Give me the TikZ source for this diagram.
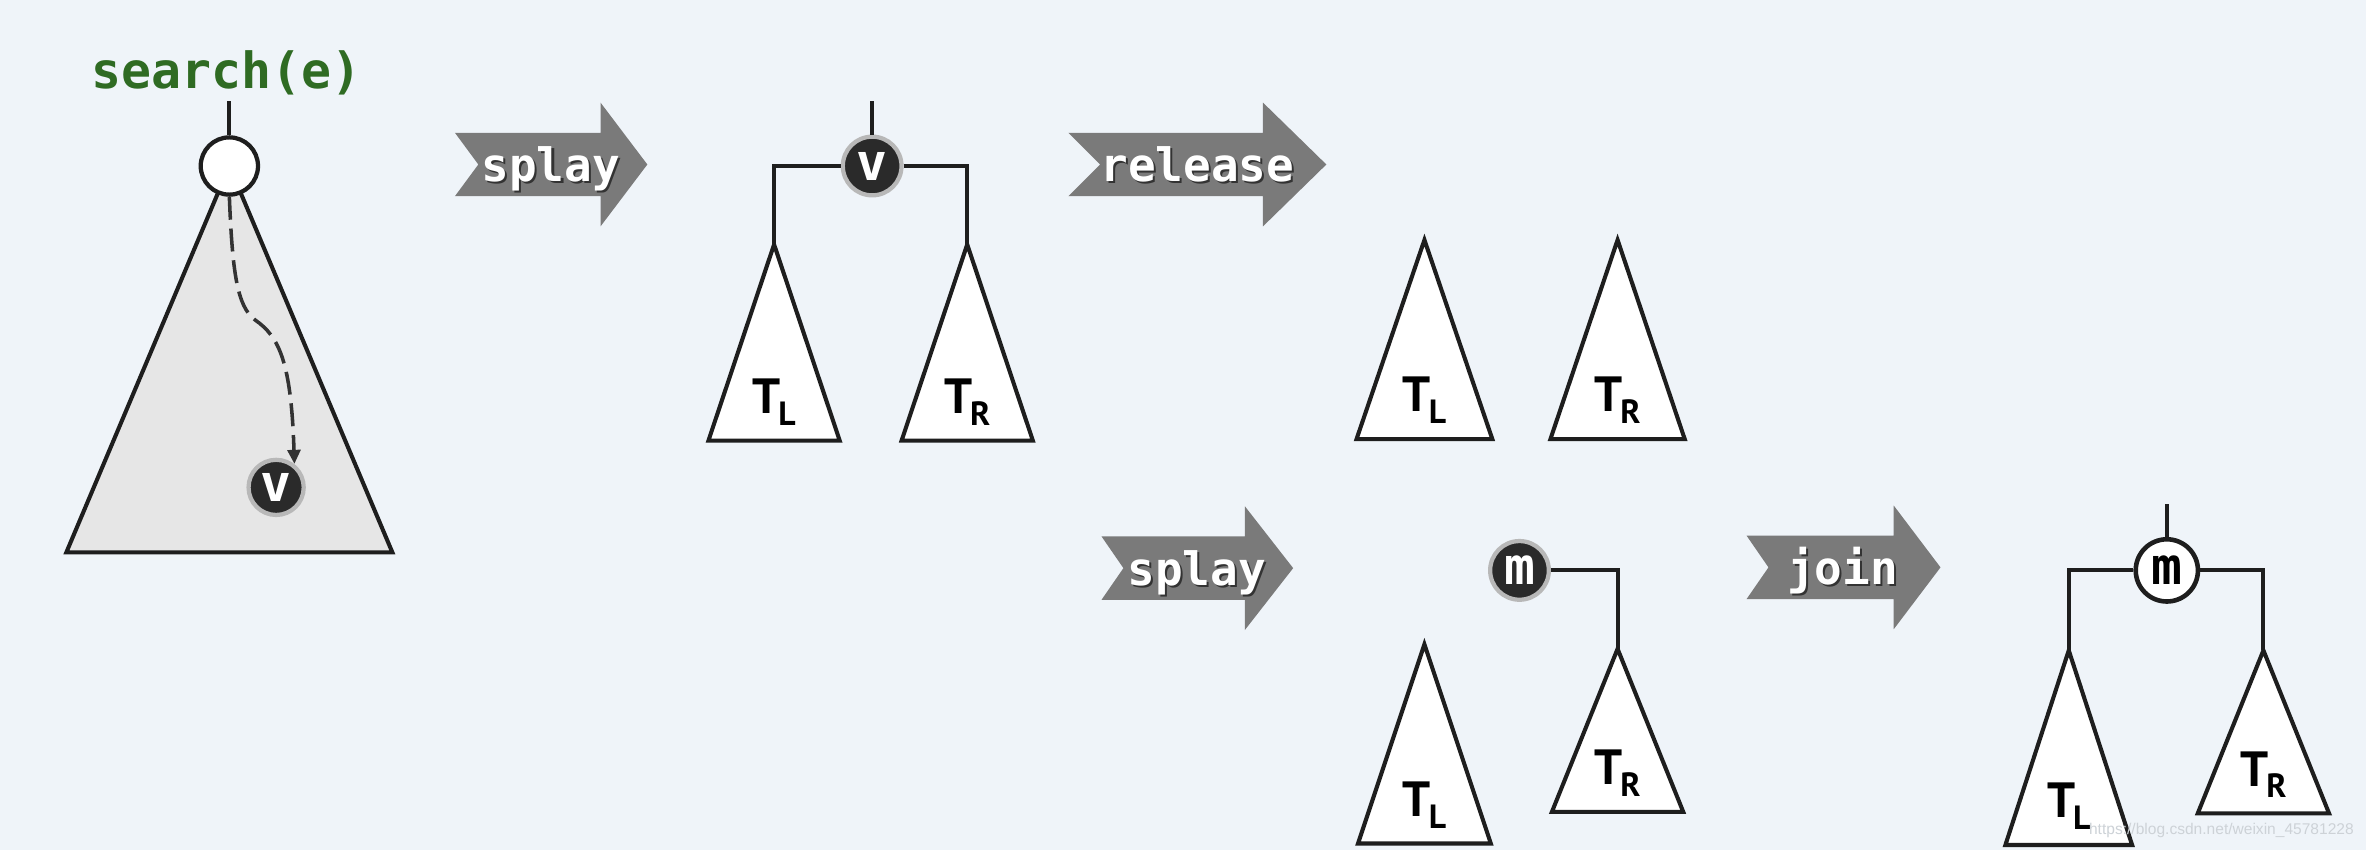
\documentclass[tikz,border=0pt]{standalone}
\usepackage{fontspec}
\setmonofont{DejaVu Sans Mono}
\newfontfamily\labfont{PT Sans}
\newfontfamily\wmfont{Liberation Sans}
\usetikzlibrary{arrows.meta}
\definecolor{bg}{HTML}{EFF4F9}
\definecolor{arrowgray}{HTML}{7A7A7A}
\definecolor{nodedark}{HTML}{2A2A2A}
\definecolor{searchgreen}{HTML}{2F6B23}
\definecolor{trifill}{HTML}{E6E6E6}
\definecolor{wmgray}{HTML}{CDD2D7}
\definecolor{linecol}{HTML}{1E1E1E}
\tikzset{
  treeline/.style={line width=1.1pt, draw=linecol, line join=miter},
  tristyle/.style={line width=1.15pt, draw=linecol, fill=white, line join=miter},
  darknode/.style={circle, fill=nodedark, draw=black!28, line width=1.2pt, minimum size=16.6pt, inner sep=0pt, text=white, font=\ttfamily\bfseries\fontsize{14.5}{14.5}\selectfont},
  whitenode/.style={circle, fill=white, draw=linecol, line width=1.2pt, minimum size=16.2pt, inner sep=0pt, text=black, font=\ttfamily\bfseries\fontsize{14.5}{14.5}\selectfont},
  arrowtext/.style={anchor=base, inner sep=0pt, text=white, font=\ttfamily\bfseries\fontsize{13}{13}\selectfont},
  arrowshadow/.style={anchor=base, inner sep=0pt, text=black!80, font=\ttfamily\bfseries\fontsize{13}{13}\selectfont},
  treelabel/.style={anchor=base, inner sep=0pt, text=black, font=\labfont\bfseries\fontsize{14}{14}\selectfont},
  searchpath/.style={line width=1pt, draw=black!80, dash pattern=on 6.5pt off 2.5pt, -{Triangle[length=4pt,width=3.6pt]}},
}
% tail, notch, headbase, tip, mid, name, text, text centre
\newcommand\garrow[8]{%
  \fill[arrowgray] (#1,#5-21) -- (#3,#5-21) -- (#3,#5-41) -- (#4,#5) -- (#3,#5+41) -- (#3,#5+21) -- (#1,#5+21) -- (#2,#5) -- cycle;
  \node[arrowshadow, xshift=0.6pt, yshift=-0.6pt] (#6s) at (#8,#5+11.3) {#7};
  \node[arrowtext] (#6) at (#8,#5+11.3) {#7};
}
% name, apex x, apex y, half width, base y
\newcommand\tritree[5]{%
  \coordinate (#1) at (#2,#3);
  \draw[tristyle] (#1) -- (#2-#4,#5) -- (#2+#4,#5) -- cycle;
}
\newcommand\tlab[1]{T\kern-0.6pt\raisebox{-3.3pt}{\fontsize{9.5}{9.5}\selectfont #1}}
\begin{document}
\begin{tikzpicture}[x=0.015cm,y=-0.015cm]
\fill[bg] (0,0) rectangle (1568,563);
\useasboundingbox (0,0) rectangle (1568,563);

% ---------- panel 1: search(e)
\node[anchor=base, inner sep=0pt, text=searchgreen, font=\ttfamily\bfseries\fontsize{14.1}{14.1}\selectfont] (search) at (150,58.5) {search(e)};
\coordinate (r1top) at (152,67);
\coordinate (bigapex) at (152,110);
\draw[line width=1.15pt, draw=linecol, fill=trifill, line join=miter] (bigapex) -- (44,366) -- (260,366) -- cycle;
\node[whitenode] (r1) at (152,110) {};
\draw[treeline] (r1top) -- (r1);
\node[darknode, minimum size=15.6pt] (v1) at (183,323) {v};
\draw[searchpath] (r1.south) .. controls (154,180) and (157,203) .. (169,212)
   .. controls (185,223) and (193,240) .. (v1.52);

% ---------- arrow splay
\garrow{301.5}{317}{398}{429}{109}{a1}{splay}{365}

% ---------- panel 2
\node[darknode] (v2) at (578,110) {v};
\coordinate (v2top) at (578,67);
\draw[treeline] (v2top) -- (v2);
\tritree{tl2}{513}{162}{43.5}{292}
\tritree{tr2}{641}{162}{43.5}{292}
\draw[treeline] (v2.west) -| (tl2);
\draw[treeline] (v2.east) -| (tr2);
\node[treelabel] (ltl2) at (513,274) {\tlab{L}};
\node[treelabel] (ltr2) at (641,274) {\tlab{R}};

% ---------- arrow release
\garrow{708}{729}{837}{879}{109}{a2}{release}{793.5}

% ---------- panel 3
\tritree{tl3}{944}{159}{45}{291}
\tritree{tr3}{1072}{159}{44.5}{291}
\node[treelabel] (ltl3) at (944,273) {\tlab{L}};
\node[treelabel] (ltr3) at (1072,273) {\tlab{R}};

% ---------- arrow splay (2)
\garrow{730}{744.5}{825}{857}{376.5}{a3}{splay}{793}

% ---------- panel 4
\node[darknode] (m1) at (1007,378) {m};
\tritree{tl4}{944}{427}{44}{559}
\tritree{tr4}{1072}{430}{43.5}{538}
\draw[treeline] (m1.east) -| (tr4);
\node[treelabel] (ltl4) at (944,541) {\tlab{L}};
\node[treelabel] (ltr4) at (1072,520) {\tlab{R}};

% ---------- arrow join
\garrow{1157.5}{1172}{1255}{1286}{376}{a4}{join}{1221}

% ---------- panel 5
\node[whitenode, minimum size=17.6pt, line width=1.3pt] (m2) at (1436,378) {m};
\coordinate (m2top) at (1436,334);
\draw[treeline] (m2top) -- (m2);
\tritree{tl5}{1371}{431}{42}{560}
\tritree{tr5}{1500}{431}{43.5}{539}
\draw[treeline] (m2.west) -| (tl5);
\draw[treeline] (m2.east) -| (tr5);
\node[treelabel] (ltl5) at (1371,542) {\tlab{L}};
\node[treelabel] (ltr5) at (1500,521) {\tlab{R}};

% ---------- watermark
\node[anchor=base west, inner sep=0pt, text=wmgray, font=\wmfont\fontsize{4.4}{4.4}\selectfont] (wm) at (1384,553) {https://blog.csdn.net/weixin\_45781228};
\end{tikzpicture}
\end{document}
